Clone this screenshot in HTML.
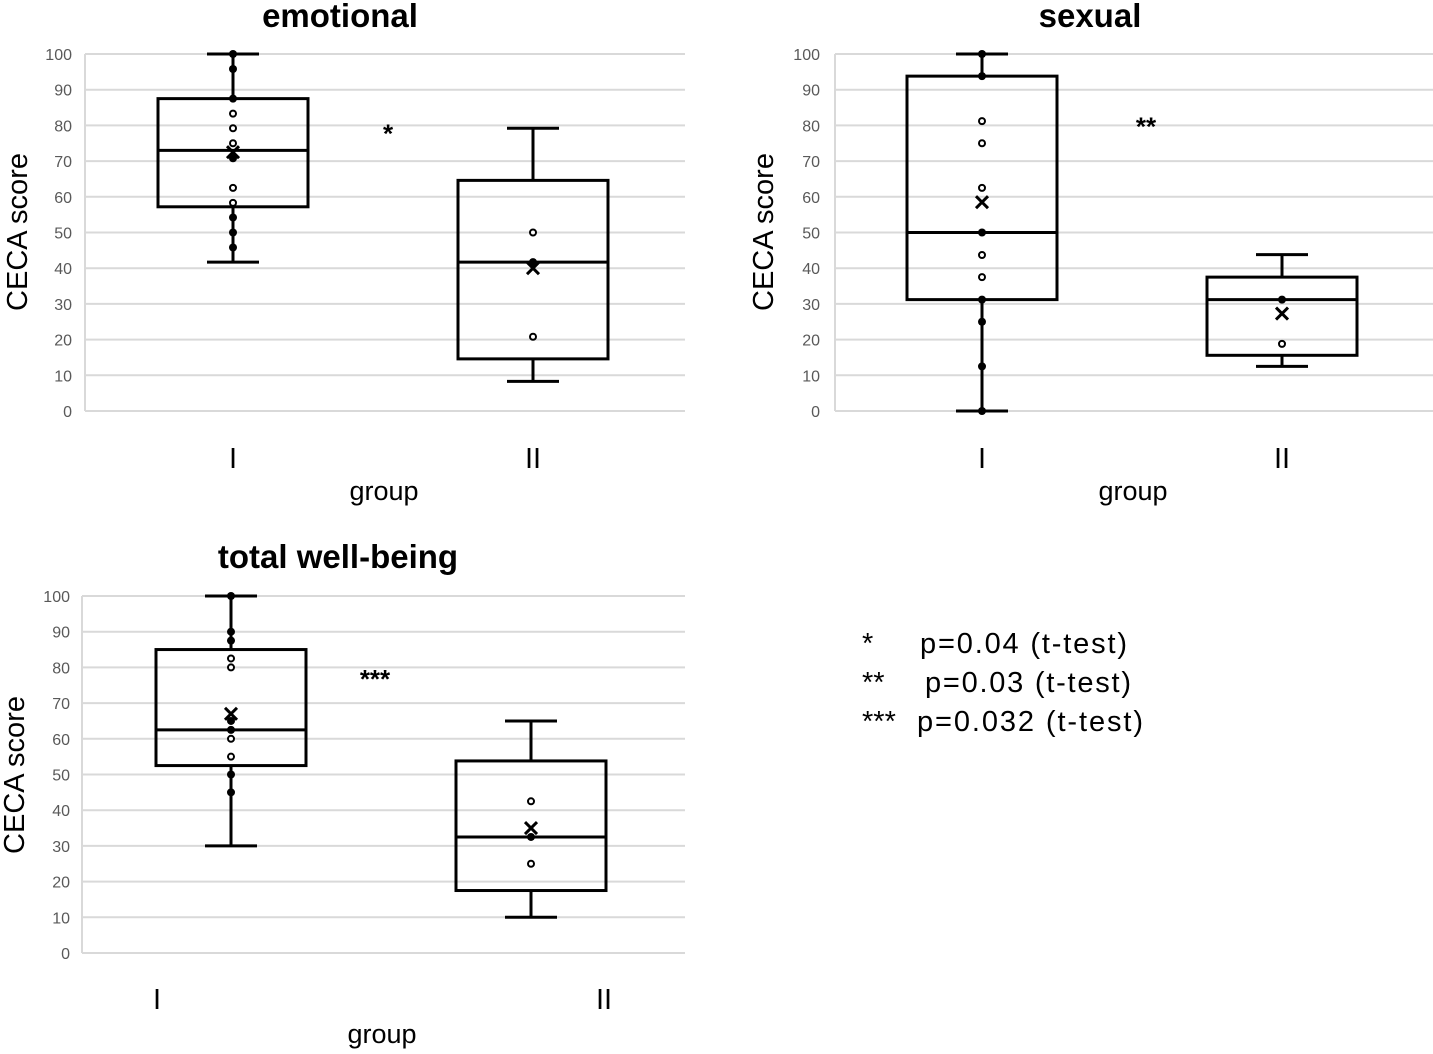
<!DOCTYPE html>
<html><head><meta charset="utf-8"><style>
body{margin:0;background:#fff;width:1433px;height:1049px;overflow:hidden;font-family:"Liberation Sans",sans-serif}
</style></head><body>
<svg id="c" width="1433" height="1049" xmlns="http://www.w3.org/2000/svg">
<g font-size="29" fill="#000">
<text x="862" y="653">*</text><text x="920" y="653" textLength="207">p=0.04 (t-test)</text>
<text x="862" y="692">**</text><text x="925" y="692" textLength="206">p=0.03 (t-test)</text>
<text x="862" y="731">***</text><text x="917" y="731" textLength="226">p=0.032 (t-test)</text>
</g>
</svg>
<script>
const panelTitles=["emotional","sexual","total well-being"];
const sigMarks=["*","**","***"];
const sigLevels=[78,80,77];
const groups=["I","II"];
const yTicks=[0,10,20,30,40,50,60,70,80,90,100];
const whiskerLow=[[41.7,8.3],[0,12.5],[30,10]];
const whiskerHigh=[[100,79.2],[100,43.8],[100,65]];
const q1=[[57.2,14.6],[31.2,15.6],[52.5,17.5]];
const q3=[[87.5,64.6],[93.8,37.5],[85,53.8]];
const medians=[[73,41.7],[50,31.2],[62.5,32.5]];
const means=[[72.5,40],[58.5,27.3],[67,35]];
const filledPts=[[[100,95.8,87.5,70.8,54.2,50,45.8],[41.7]],[[100,93.8,50,31.2,25,12.5,0],[31.2]],[[100,90,87.5,65,62.5,50,45],[32.5]]];
const openPts=[[[83.3,79.2,75,62.5,58.3],[50,20.8]],[[81.2,75,62.5,43.7,37.5],[18.8]],[[82.5,80,60,55],[42.5,25]]];

const layout=[
 {x0:85,x1:685,y0:411,y1:54,gx:[233,533],tx:340,ty:27,tickX:72,ytX:17,ytY:232,glx:[233,533],gly:468,grx:384,gry:500,sigX:388},
 {x0:835,x1:1433,y0:411,y1:54,gx:[982,1282],tx:1090,ty:27,tickX:820,ytX:763,ytY:232,glx:[982,1282],gly:468,grx:1133,gry:500,sigX:1146},
 {x0:82,x1:685,y0:953,y1:596,gx:[231,531],tx:338,ty:568,tickX:70,ytX:14,ytY:775,glx:[157,604],gly:1009,grx:382,gry:1043,sigX:375}
];
const svg=document.getElementById('c');
const NS="http://www.w3.org/2000/svg";
function mk(tag,attrs,parent){const e=document.createElementNS(NS,tag);for(const k in attrs)e.setAttribute(k,attrs[k]);(parent||svg).appendChild(e);return e;}
panelTitles.forEach((title,p)=>{
 const L=layout[p];
 const y=v=>L.y0+(L.y1-L.y0)*v/100;
 const g=mk('g',{});
 
 
 yTicks.forEach(t=>{
  const ln=mk('line',{x1:L.x0,x2:L.x1,y1:y(t),y2:y(t),stroke:'#d9d9d9','stroke-width':2},g);
  
  
  const tx=mk('text',{x:L.tickX,y:y(t)+6,'text-anchor':'end','font-size':16,fill:'#595959'},g);
  tx.textContent=t;
  
  
 });
 const ax=mk('line',{x1:L.x0,x2:L.x0,y1:L.y0,y2:L.y1,stroke:'#d9d9d9','stroke-width':2},g);
 
 
 const tt=mk('text',{x:L.tx,y:L.ty,'text-anchor':'middle','font-size':33,'font-weight':'bold'},g);
 tt.textContent=title;
 
 
 const yt=mk('text',{x:L.ytX,y:L.ytY,'text-anchor':'middle','font-size':29,transform:`rotate(-90 ${L.ytX} ${L.ytY})`,dy:10},g);
 yt.textContent='CECA score';
 
 
 const gt=mk('text',{x:L.grx,y:L.gry,'text-anchor':'middle','font-size':27},g);
 gt.textContent='group';
 
 
 const sg=mk('text',{x:L.sigX,y:y(sigLevels[p])+10,'text-anchor':'middle','font-size':26,'font-weight':'bold'},g);
 sg.textContent=sigMarks[p];
 
 
 groups.forEach((gr,i)=>{
  const cx=L.gx[i],hw=75,cw=26;
  const lb=mk('text',{x:L.glx[i],y:L.gly,'text-anchor':'middle','font-size':29},g);
  lb.textContent=gr;
  
  
  const st={stroke:'#000','stroke-width':3,fill:'none'};
  const w1=mk('line',{x1:cx,x2:cx,y1:y(whiskerLow[p][i]),y2:y(q1[p][i]),...st},g);
  
  
  const w2=mk('line',{x1:cx,x2:cx,y1:y(q3[p][i]),y2:y(whiskerHigh[p][i]),...st},g);
  
  
  [whiskerLow[p][i],whiskerHigh[p][i]].forEach(v=>{
   const c=mk('line',{x1:cx-cw,x2:cx+cw,y1:y(v),y2:y(v),...st},g);
   
   
  });
  const bx=mk('rect',{x:cx-hw,y:y(q3[p][i]),width:2*hw,height:y(q1[p][i])-y(q3[p][i]),...st},g);
  
  
  const md=mk('line',{x1:cx-hw,x2:cx+hw,y1:y(medians[p][i]),y2:y(medians[p][i]),...st},g);
  
  
  filledPts[p][i].forEach(v=>{
   const c=mk('circle',{cx:cx,cy:y(v),r:4,fill:'#000'},g);
   
   
  });
  openPts[p][i].forEach(v=>{
   const c=mk('circle',{cx:cx,cy:y(v),r:3,fill:'#fff',stroke:'#000','stroke-width':2},g);
   
   
  });
  const my=y(means[p][i]),s=6;
  const mx=mk('path',{d:`M${cx-s},${my-s}L${cx+s},${my+s}M${cx+s},${my-s}L${cx-s},${my+s}`,stroke:'#000','stroke-width':3},g);
  
  
 });
});
</script>
</body></html>
